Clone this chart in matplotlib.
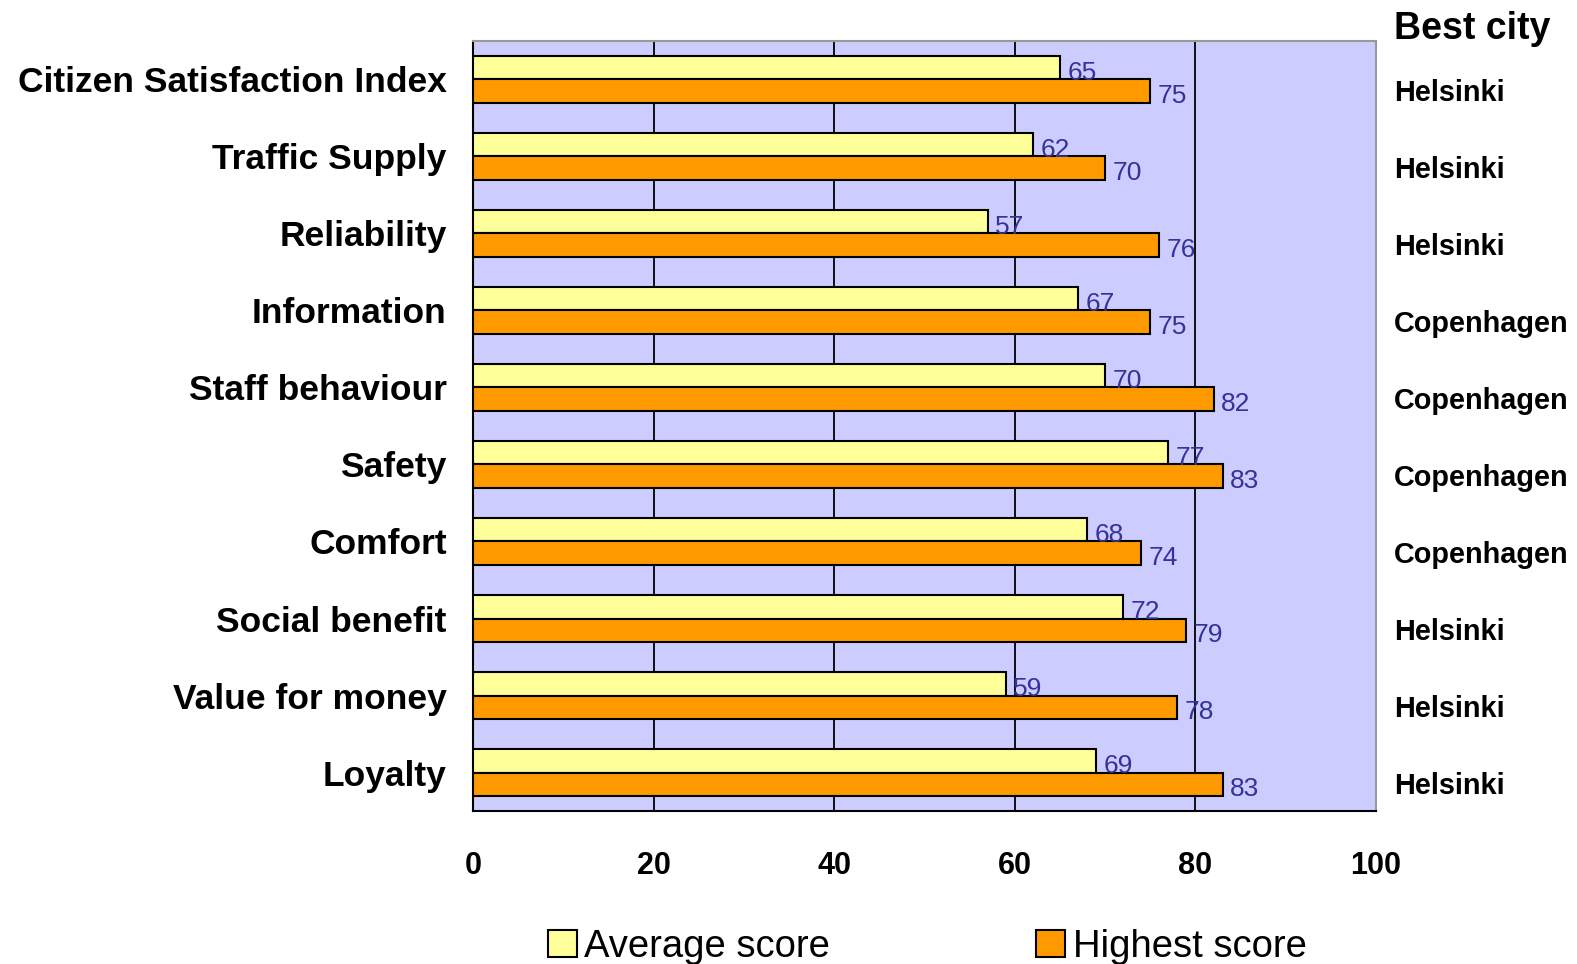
import numpy as np
import matplotlib
matplotlib.use("Agg")
import matplotlib.pyplot as plt
from matplotlib.patches import Patch

plt.rcParams['font.family'] = ['Liberation Sans', 'DejaVu Sans']

# data
categories = ['Citizen Satisfaction Index', 'Traffic Supply', 'Reliability', 'Information',
              'Staff behaviour', 'Safety', 'Comfort', 'Social benefit', 'Value for money', 'Loyalty']
avg_score = [65, 62, 57, 67, 70, 77, 68, 72, 59, 69]
high_score = [75, 70, 76, 75, 82, 83, 74, 79, 78, 83]
best_city = ['Helsinki', 'Helsinki', 'Helsinki', 'Copenhagen', 'Copenhagen',
             'Copenhagen', 'Copenhagen', 'Helsinki', 'Helsinki', 'Helsinki']
xticks = [0, 20, 40, 60, 80, 100]

fig = plt.figure(figsize=(15.77, 9.64), dpi=100)
ax = fig.add_axes([0.300, 0.1587, 0.5726, 0.7988])
ax.set_facecolor('#CCCCFF')

y = np.arange(len(categories))
h = 0.3
ax.barh(y - h/2, avg_score, height=h, color='#FFFF99', edgecolor='black', linewidth=1.5, zorder=3)
ax.barh(y + h/2, high_score, height=h, color='#FF9900', edgecolor='black', linewidth=1.5, zorder=3)

for i in range(len(categories)):
    ax.text(avg_score[i] + 0.8, y[i] - h/2 + 0.06, str(avg_score[i]), va='center', ha='left',
            fontsize=19, color='#333399', zorder=4)
    ax.text(high_score[i] + 0.8, y[i] + h/2 + 0.06, str(high_score[i]), va='center', ha='left',
            fontsize=19, color='#333399', zorder=4)
    ax.text(102.0, y[i] + 0.17, best_city[i], va='center', ha='left',
            fontsize=20.8, fontweight='bold', clip_on=False)

ax.text(102.0, -0.66, 'Best city', va='center', ha='left', fontsize=27, fontweight='bold', clip_on=False)

ax.set_xlim(0, 100)
ax.set_ylim(len(categories) - 0.5, -0.5)
ax.set_xticks(xticks)
ax.set_xticklabels([str(t) for t in xticks], fontsize=22, fontweight='bold')
ax.set_yticks(y)
ax.set_yticklabels(categories, fontsize=25.5, fontweight='bold')
ax.tick_params(axis='x', length=0, pad=29)
ax.tick_params(axis='y', length=0, pad=19)

ax.xaxis.grid(True, color='black', linewidth=1.3, zorder=1)
ax.set_axisbelow(True)
ax.spines['left'].set_color('black')
ax.spines['bottom'].set_color('black')
ax.spines['top'].set_color('#999999')
ax.spines['right'].set_color('#999999')
for s in ax.spines.values():
    s.set_linewidth(1.5)

handles = [Patch(facecolor='#FFFF99', edgecolor='black', linewidth=1.5, label='Average score'),
           Patch(facecolor='#FF9900', edgecolor='black', linewidth=1.5, label='Highest score')]
fig.legend(handles=handles, loc='center', bbox_to_anchor=(0.588, 0.018), ncol=2, frameon=False,
           fontsize=27.5, handlelength=0.75, handleheight=0.7, handletextpad=0.2, columnspacing=5.4)

fig.savefig('out.png', dpi=100)
